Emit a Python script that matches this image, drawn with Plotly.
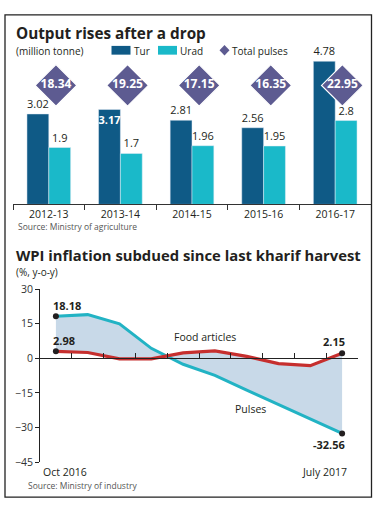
import plotly.graph_objects as go

# ---------------- data ----------------
years = ["2012-13", "2013-14", "2014-15", "2015-16", "2016-17"]
tur = [3.02, 3.17, 2.81, 2.56, 4.78]
urad = [1.9, 1.7, 1.96, 1.95, 2.8]
total_pulses = [18.34, 19.25, 17.15, 16.35, 22.95]

months = ["Oct 2016", "Nov 2016", "Dec 2016", "Jan 2017", "Feb 2017",
          "Mar 2017", "Apr 2017", "May 2017", "Jun 2017", "Jul 2017"]
pulses_wpi = [18.18, 18.9, 14.9, 4.3, -2.6, -7.4, -13.8, -20.1, -26.4, -32.56]
food_wpi = [2.98, 2.5, -0.3, -0.3, 2.3, 3.2, 0.8, -2.3, -3.2, 2.15]
end_labels = ["Oct 2016", "July 2017"]

# ---------------- style ----------------
W, H = 376, 508
FONT = "Open Sans"
DARK = "#231f20"
TUR_C = "#0f5a86"
URAD_C = "#1ab9c9"
DIA_C = "#5d5b91"
RED_C = "#c62f2e"
PUL_C = "#22b3c4"
FILL_C = "#c8d9e8"
DIAMOND_LEVEL = 0.80
DIAMOND_SHIFT = 0.10   # diamonds sit slightly right of the group centre


def px(x):
    return x / W


def py(y):
    return 1 - y / H


fig = go.Figure()

# ---- top chart: bars ----
tur_pos = ["inside" if i == 1 else "outside" for i in range(len(tur))]
fig.add_trace(go.Bar(
    x=years, y=tur, name="Tur", marker_color=TUR_C,
    text=[f"{v:g}" for v in tur], textposition=tur_pos,
    insidetextanchor="end", textangle=0,
    insidetextfont=dict(color="white", size=11, family=FONT, weight="bold"),
    outsidetextfont=dict(color=DARK, size=11, family=FONT),
    cliponaxis=False, xaxis="x", yaxis="y", showlegend=False,
))
fig.add_trace(go.Bar(
    x=years, y=urad, name="Urad", marker_color=URAD_C,
    text=[f"{v:g}" for v in urad], textposition="outside", textangle=0,
    outsidetextfont=dict(color=DARK, size=11, family=FONT),
    cliponaxis=False, xaxis="x", yaxis="y", showlegend=False,
))
fig.add_trace(go.Scatter(
    x=years, y=[DIAMOND_LEVEL] * len(years), mode="markers+text",
    marker=dict(symbol="diamond", size=32, color=DIA_C,
                line=dict(color="white", width=1.2)),
    text=[f"{v:.2f}" for v in total_pulses], textposition="middle center",
    textfont=dict(color="white", size=12, family=FONT, weight="bold"),
    xaxis="x3", yaxis="y3", showlegend=False, cliponaxis=False,
))

# ---- bottom chart: lines ----
fig.add_trace(go.Scatter(
    x=months, y=food_wpi, mode="lines", line=dict(color="rgba(0,0,0,0)", width=0),
    xaxis="x2", yaxis="y2", showlegend=False, hoverinfo="skip",
))
fig.add_trace(go.Scatter(
    x=months, y=pulses_wpi, mode="lines", fill="tonexty", fillcolor=FILL_C,
    line=dict(color=PUL_C, width=3), xaxis="x2", yaxis="y2", showlegend=False,
))
fig.add_trace(go.Scatter(
    x=months, y=food_wpi, mode="lines",
    line=dict(color=RED_C, width=3.2), xaxis="x2", yaxis="y2", showlegend=False,
))
fig.add_trace(go.Scatter(
    x=[months[0], months[0], months[-1], months[-1]],
    y=[pulses_wpi[0], food_wpi[0], food_wpi[-1], pulses_wpi[-1]],
    mode="markers", marker=dict(color=DARK, size=6),
    xaxis="x2", yaxis="y2", showlegend=False, cliponaxis=False,
))

# ---- axes ----
top_dom = [py(203), py(50)]
bot_dom = [py(468), py(290)]
bot_range = [-45, 30]
zero_pos = bot_dom[0] + (0 - bot_range[0]) / (bot_range[1] - bot_range[0]) * (bot_dom[1] - bot_dom[0])
n = len(years)

fig.update_layout(
    width=W, height=H, margin=dict(l=0, r=0, t=0, b=0),
    paper_bgcolor="white", plot_bgcolor="white",
    font=dict(family=FONT, color=DARK),
    barmode="group", bargap=0.39, bargroupgap=0,
    uniformtext=dict(minsize=11, mode="show"),
    xaxis=dict(domain=[px(13), px(371)], type="category", anchor="y",
               range=[-0.5, n - 0.5],
               showline=True, linecolor="#333", linewidth=1,
               ticks="outside", ticklen=5, tickcolor="#333", tickson="boundaries",
               tickfont=dict(size=10.5, color=DARK, family=FONT),
               showgrid=False, fixedrange=True),
    xaxis3=dict(overlaying="x", type="category", anchor="y3",
                range=[-0.5 - DIAMOND_SHIFT, n - 0.5 - DIAMOND_SHIFT], visible=False),
    yaxis=dict(domain=top_dom, range=[0, 153 / 30.8], visible=False,
               showgrid=False, zeroline=False),
    yaxis3=dict(overlaying="y", range=[0, 1], visible=False),
    xaxis2=dict(domain=[px(40), px(358)], type="category", range=[-0.5, 9.5],
                anchor="free", position=zero_pos,
                showline=True, linecolor="#222", linewidth=1,
                ticks="inside", ticklen=5, tickcolor="#222", tickson="boundaries",
                showticklabels=False, showgrid=False),
    yaxis2=dict(domain=bot_dom, range=bot_range, anchor="x2",
                tickvals=[-45, -30, -15, 0, 15, 30],
                showline=True, linecolor="#222", linewidth=1,
                ticks="outside", ticklen=4, tickcolor="#222",
                tickfont=dict(size=10.5, color="#333", family=FONT),
                showgrid=False, zeroline=False),
)

ann = []


def text(x, y, s, size, bold=False, color=DARK, anchor="left"):
    ann.append(dict(x=px(x), y=py(y), xref="paper", yref="paper", text=s,
                    showarrow=False, xanchor=anchor, yanchor="middle", borderpad=0,
                    font=dict(size=size, color=color, family=FONT,
                              weight="bold" if bold else "normal")))


text(15, 27, "Output rises after a drop", 15.3, bold=True)
text(15, 45, "(million tonne)", 10)
text(133, 45, "Tur", 10)
text(179, 45, "Urad", 10)
text(231, 45, "Total pulses", 10)
text(17, 226, "Source: Ministry of agriculture", 8.5, color="#555")
text(15, 255, "WPI inflation subdued since last kharif harvest", 14.8, bold=True)
text(15, 272, "(%, y-o-y)", 10)
text(27, 492, "Source: Ministry of industry", 8.5, color="#555")


def dlab(x, y, s, xa, ya, xs, ys, bold=True, size=11):
    ann.append(dict(x=x, y=y, xref="x2", yref="y2", text=s, showarrow=False,
                    xanchor=xa, yanchor=ya, xshift=xs, yshift=ys, borderpad=0,
                    font=dict(size=size, color=DARK, family=FONT,
                              weight="bold" if bold else "normal")))


dlab(months[0], pulses_wpi[0], f"{pulses_wpi[0]:.2f}", "left", "bottom", -4, 2)
dlab(months[0], food_wpi[0], f"{food_wpi[0]:.2f}", "left", "bottom", -4, 2)
dlab(months[-1], food_wpi[-1], f"{food_wpi[-1]:.2f}", "right", "bottom", 4, 3)
dlab(months[-1], pulses_wpi[-1], f"{pulses_wpi[-1]:.2f}", "right", "top", 4, -3)
dlab(4.69, 9.3, "Food articles", "center", "middle", 0, 0, bold=False, size=10.5)
dlab(6.13, -22, "Pulses", "center", "middle", 0, 0, bold=False, size=10.5)

ann.append(dict(x=-0.5, y=-45, xref="x2", yref="y2", text=end_labels[0],
                showarrow=False, xanchor="left", yanchor="top", xshift=1, yshift=-1,
                font=dict(size=10.5, color=DARK, family=FONT)))
ann.append(dict(x=9.5, y=-45, xref="x2", yref="y2", text=end_labels[1],
                showarrow=False, xanchor="right", yanchor="top", xshift=-9, yshift=-1,
                font=dict(size=10.5, color=DARK, family=FONT)))

fig.update_layout(annotations=ann)

shapes = [
    dict(type="rect", xref="paper", yref="paper", x0=px(5), x1=px(371.5),
         y0=py(504), y1=py(8), line=dict(color="#222", width=1.3), fillcolor="rgba(0,0,0,0)"),
    dict(type="rect", xref="paper", yref="paper", x0=px(111.5), x1=px(130.5),
         y0=py(49), y1=py(40), line=dict(width=0), fillcolor=TUR_C),
    dict(type="rect", xref="paper", yref="paper", x0=px(158), x1=px(177),
         y0=py(49), y1=py(40), line=dict(width=0), fillcolor=URAD_C),
    dict(type="path", xref="paper", yref="paper",
         path=f"M {px(219.5)},{py(44.5)} L {px(224.5)},{py(39)} L {px(229.5)},{py(44.5)} L {px(224.5)},{py(50)} Z",
         line=dict(width=0), fillcolor=DIA_C),
]
fig.update_layout(shapes=shapes)

fig.write_html("out.html", config={"displayModeBar": False},
               post_script="document.body.style.margin='0';document.body.style.padding='0';"
                           "document.documentElement.style.overflow='hidden';")
